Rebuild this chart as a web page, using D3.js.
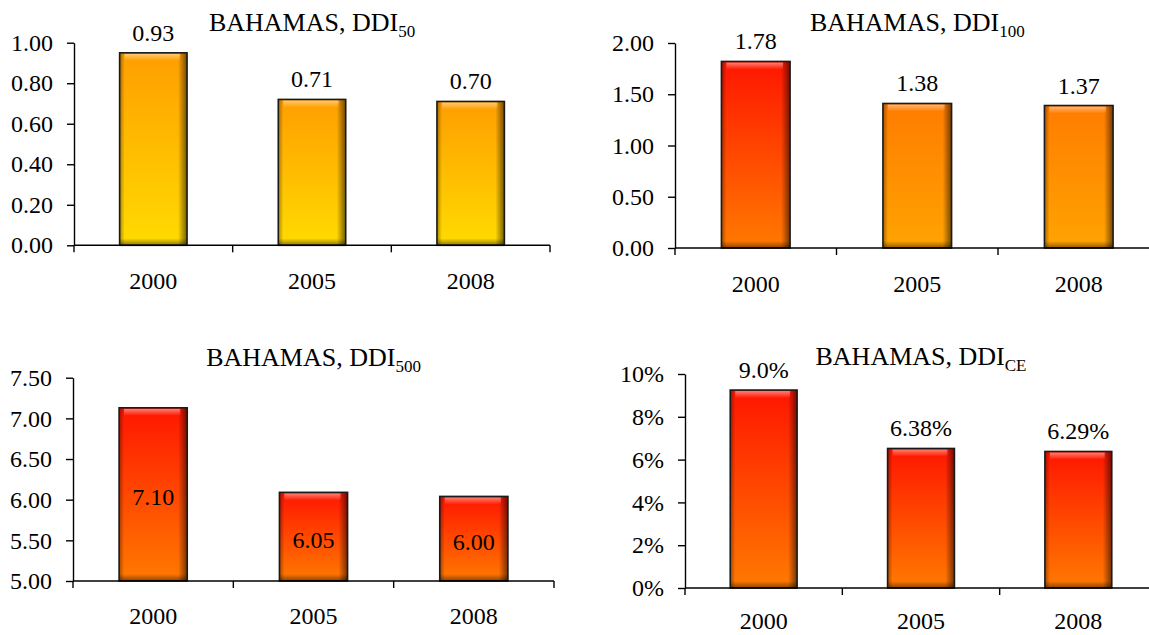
<!DOCTYPE html>
<html>
<head>
<meta charset="utf-8">
<script src="https://cdn.jsdelivr.net/npm/d3@7"></script>
<style>
  body { margin: 0; background: #fff; }
  svg text { font-family: "Liberation Serif", "Times New Roman", serif; fill: #000; }
</style>
</head>
<body>
<svg id="chart" width="1149" height="635"></svg>
<script>
try{

/*========================================
	Data
========================================*/
var years = ["2000", "2005", "2008"];

// bar heights, labels as printed
var ddi50Values = [0.95, 0.72, 0.71];
var ddi50Labels = ["0.93", "0.71", "0.70"];
var ddi50Ticks = [0, 0.2, 0.4, 0.6, 0.8, 1.0];

var ddi100Values = [1.82, 1.41, 1.39];
var ddi100Labels = ["1.78", "1.38", "1.37"];
var ddi100Ticks = [0, 0.5, 1.0, 1.5, 2.0];

var ddi500Values = [7.13, 6.09, 6.04];
var ddi500Labels = ["7.10", "6.05", "6.00"];
var ddi500Ticks = [5.0, 5.5, 6.0, 6.5, 7.0, 7.5];

var ddiCEValues = [0.0925, 0.0652, 0.0638];
var ddiCELabels = ["9.0%", "6.38%", "6.29%"];
var ddiCETicks = [0, 0.02, 0.04, 0.06, 0.08, 0.10];

/*========================================
	Panel layout
========================================*/
var svg = d3.select("#chart");

var panels = [
	{ sub: "50", values: ddi50Values, labels: ddi50Labels, ticks: ddi50Ticks, fmt: d3.format(".2f"),
	  x0: 74, x1: 550, yTop: 42.7, yBot: 245.3, titleY: 31, yearPad: 27, colors: ["yellow", "yellow", "yellow"], inside: false },
	{ sub: "100", values: ddi100Values, labels: ddi100Labels, ticks: ddi100Ticks, fmt: d3.format(".2f"),
	  x0: 675, x1: 1159.5, yTop: 43, yBot: 248, titleY: 31, yearPad: 27, colors: ["red", "orange", "orange"], inside: false },
	{ sub: "500", values: ddi500Values, labels: ddi500Labels, ticks: ddi500Ticks, fmt: d3.format(".2f"),
	  x0: 73, x1: 554, yTop: 377.7, yBot: 581, titleY: 366, yearPad: 26, colors: ["red", "red", "red"], inside: true },
	{ sub: "CE", values: ddiCEValues, labels: ddiCELabels, ticks: ddiCETicks, fmt: d3.format(".0%"),
	  x0: 685, x1: 1157, yTop: 374, yBot: 588, titleY: 365, yearPad: 24, colors: ["red", "red", "red"], inside: false }
];

/*========================================
	Gradients
========================================*/
var defs = svg.append("defs");

var gradColors = {
	yellow: ["#ff9e00", "#ffdb00"],
	red: ["#ff1600", "#ff7a00"],
	orange: ["#ff7c00", "#ffa400"]
};

Object.keys(gradColors).forEach(function(k){
	var g = defs.append("linearGradient").attr("id", "grad-" + k)
		.attr("x1", 0).attr("y1", 0).attr("x2", 0).attr("y2", 1);
	g.append("stop").attr("offset", "0%").attr("stop-color", gradColors[k][0]);
	g.append("stop").attr("offset", "100%").attr("stop-color", gradColors[k][1]);
});

var shadeR = defs.append("linearGradient").attr("id", "shadeR")
	.attr("x1", 0).attr("y1", 0).attr("x2", 1).attr("y2", 0);
shadeR.append("stop").attr("offset", "0%").attr("stop-color", "#000").attr("stop-opacity", 0);
shadeR.append("stop").attr("offset", "100%").attr("stop-color", "#000").attr("stop-opacity", 0.55);

var shadeL = defs.append("linearGradient").attr("id", "shadeL")
	.attr("x1", 1).attr("y1", 0).attr("x2", 0).attr("y2", 0);
shadeL.append("stop").attr("offset", "0%").attr("stop-color", "#000").attr("stop-opacity", 0);
shadeL.append("stop").attr("offset", "100%").attr("stop-color", "#000").attr("stop-opacity", 0.35);

var shadeB = defs.append("linearGradient").attr("id", "shadeB")
	.attr("x1", 0).attr("y1", 0).attr("x2", 0).attr("y2", 1);
shadeB.append("stop").attr("offset", "0%").attr("stop-color", "#000").attr("stop-opacity", 0);
shadeB.append("stop").attr("offset", "100%").attr("stop-color", "#000").attr("stop-opacity", 0.45);

var shineT = defs.append("linearGradient").attr("id", "shineT")
	.attr("x1", 0).attr("y1", 0).attr("x2", 0).attr("y2", 1);
shineT.append("stop").attr("offset", "0%").attr("stop-color", "#fff").attr("stop-opacity", 0.45);
shineT.append("stop").attr("offset", "100%").attr("stop-color", "#fff").attr("stop-opacity", 0);

/*========================================
	Draw one panel
========================================*/
var drawPanel = function(p){
	var g = svg.append("g");

	// equal slots per year, bar ~42% of slot
	var x = d3.scaleBand().domain(years).range([p.x0, p.x1]).paddingInner(0.575).paddingOuter(0.2875);
	var y = d3.scaleLinear().domain([p.ticks[0], p.ticks[p.ticks.length - 1]]).range([p.yBot, p.yTop]);
	var slot = (p.x1 - p.x0) / years.length;

	// title
	var title = g.append("text")
		.attr("x", (p.x0 + p.x1) / 2)
		.attr("y", p.titleY)
		.attr("text-anchor", "middle")
		.style("font-size", "26px");
	title.append("tspan").text("BAHAMAS, DDI");
	title.append("tspan").attr("dy", 6).style("font-size", "17px").text(p.sub);

	// bars
	years.forEach(function(yr, i){
		var bx = x(yr), bw = x.bandwidth();
		var by = y(p.values[i]), bh = p.yBot - by;
		var bar = g.append("g");
		bar.append("rect").attr("x", bx).attr("y", by).attr("width", bw).attr("height", bh)
			.attr("fill", "url(#grad-" + p.colors[i] + ")");
		// bevel edges
		bar.append("rect").attr("x", bx + bw - 9).attr("y", by).attr("width", 9).attr("height", bh)
			.attr("fill", "url(#shadeR)");
		bar.append("rect").attr("x", bx).attr("y", by).attr("width", 5).attr("height", bh)
			.attr("fill", "url(#shadeL)");
		bar.append("rect").attr("x", bx).attr("y", p.yBot - 7).attr("width", bw).attr("height", 7)
			.attr("fill", "url(#shadeB)");
		bar.append("rect").attr("x", bx + 5).attr("y", by + 1).attr("width", bw - 12).attr("height", 7)
			.attr("fill", "url(#shineT)");
		bar.append("rect").attr("x", bx).attr("y", by).attr("width", bw).attr("height", bh)
			.attr("fill", "none").attr("stroke", "#1a1a1a").attr("stroke-width", 1.6);

		// value label
		g.append("text")
			.attr("x", bx + bw / 2)
			.attr("y", p.inside ? by + bh / 2 + 11 : by - 12)
			.attr("text-anchor", "middle")
			.style("font-size", "24px")
			.text(p.labels[i]);
	});

	// y axis
	var yAxis = g.append("g")
		.attr("transform", "translate(" + p.x0 + ",0)")
		.call(d3.axisLeft(y).tickValues(p.ticks).tickFormat(p.fmt).tickSize(7).tickSizeOuter(0).tickPadding(14));
	yAxis.selectAll("text").style("font-size", "24px");
	yAxis.selectAll("line, path").attr("stroke", "#000").attr("stroke-width", 1.4);

	// x axis: line + ticks on slot boundaries
	g.append("line").attr("x1", p.x0).attr("x2", p.x1).attr("y1", p.yBot).attr("y2", p.yBot)
		.attr("stroke", "#000").attr("stroke-width", 1.4);
	d3.range(years.length + 1).forEach(function(k){
		var tx = p.x0 + k * slot;
		g.append("line").attr("x1", tx).attr("x2", tx).attr("y1", p.yBot).attr("y2", p.yBot + 7)
			.attr("stroke", "#000").attr("stroke-width", 1.4);
	});
	var xAxis = g.append("g")
		.attr("transform", "translate(0," + p.yBot + ")")
		.call(d3.axisBottom(x).tickSize(0).tickPadding(p.yearPad));
	xAxis.select(".domain").remove();
	xAxis.selectAll("text").style("font-size", "24px");
};

panels.forEach(drawPanel);

} catch (e) {
	console.log(e);
}
</script>
</body>
</html>
